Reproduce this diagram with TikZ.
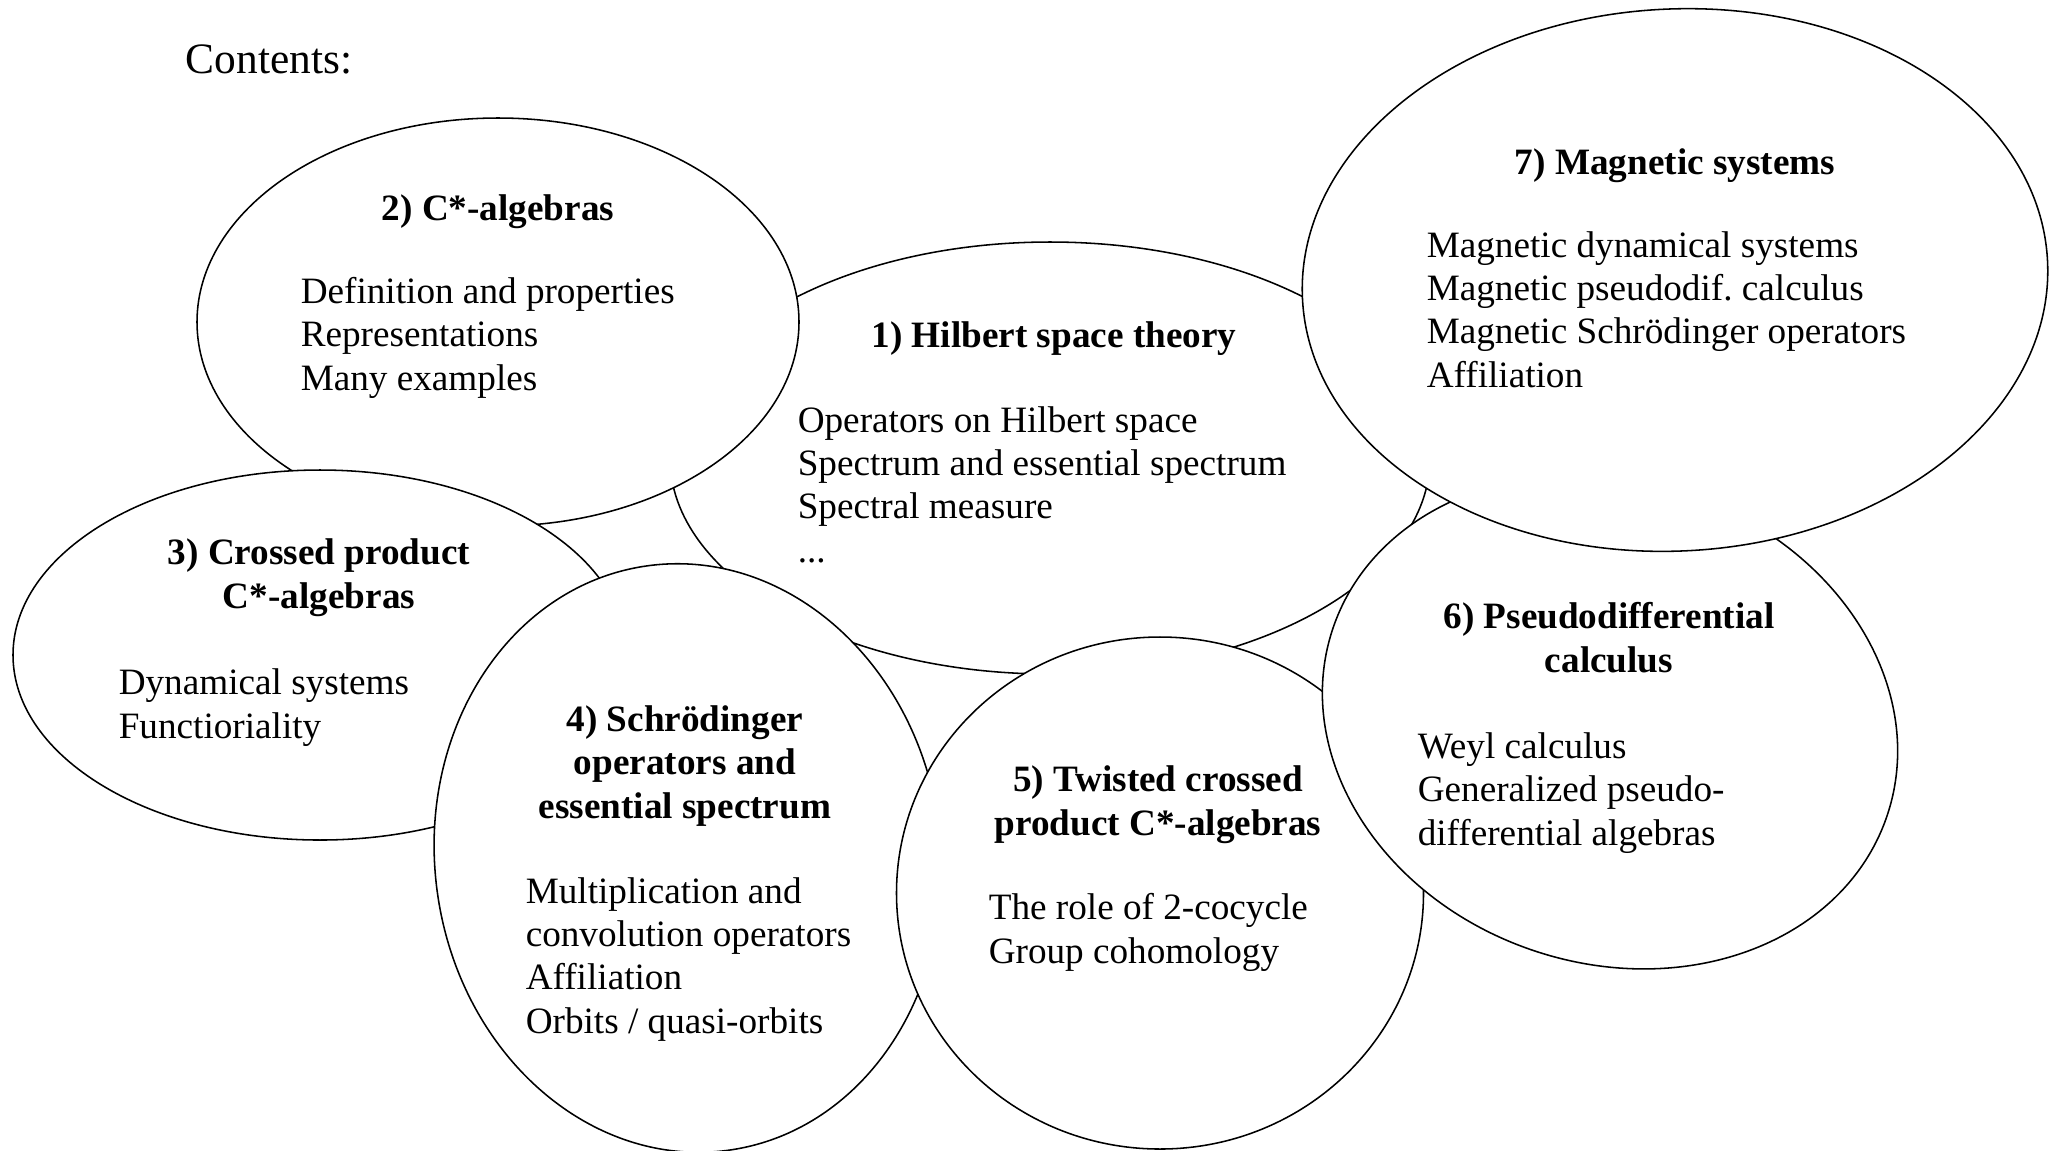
\documentclass[tikz,border=0pt]{standalone}
\usepackage{fontspec}
\setmainfont{Liberation Serif}
\usetikzlibrary{shapes.geometric}

\begin{document}
\begin{tikzpicture}[x=0.3226pt, y=-0.3226pt, line width=0.5pt,
        every node/.style = {inner sep=0pt, font=\fontsize{12}{13.9}\selectfont},
        bubble/.style 2 args = {ellipse, draw=black, fill=white, minimum width=#1*0.3226pt, minimum height=#2*0.3226pt},
        head/.style = {align=center, anchor=base, font=\fontsize{12}{13.9}\selectfont\bfseries},
        items/.style = {align=left, anchor=base west}]
                \useasboundingbox (0,0) rectangle (2056,1150);

                \node[anchor=base west, font=\fontsize{14}{16}\selectfont] (contents) at (185,73) {Contents:};

                % topics, back to front (text nodes sit on their last baseline)
                \node[bubble={760}{432}] (1) at (1050,458) {};
                \node[head] (t1) at (1054,347) {1) Hilbert space theory};
                \node[items] (b1) at (797,562) {Operators on Hilbert space\\Spectrum and essential spectrum\\Spectral measure\\...};

                \node[bubble={602}{408}] (2) at (498,322) {};
                \node[head] (t2) at (498,220) {2) C*-algebras};
                \node[items] (b2) at (300,390) {Definition and properties\\Representations\\Many examples};

                \node[bubble={614}{370}] (3) at (320,655) {};
                \node[head] (t3) at (319,608) {3) Crossed product\\C*-algebras};
                \node[items] (b3) at (118,738) {Dynamical systems\\Functioriality};

                \node[bubble={506}{590}, rotate=8] (4) at (688,858) {};
                \node[head] (t4) at (685,818) {4) Schrödinger\\operators and\\essential spectrum};
                \node[items] (b4) at (525,1033) {Multiplication and\\convolution operators\\Affiliation\\Orbits / quasi-orbits};

                \node[bubble={527}{512}] (5) at (1160,893) {};
                \node[head] (t5) at (1158,835) {5) Twisted crossed\\product C*-algebras};
                \node[items] (b5) at (988,963) {The role of 2-cocycle\\Group cohomology};

                \node[bubble={585}{482}, rotate=-18.8] (6) at (1610,722) {};
                \node[head] (t6) at (1609,672) {6) Pseudodifferential\\calculus};
                \node[items] (b6) at (1417,845) {Weyl calculus\\Generalized pseudo-\\differential algebras};

                \node[bubble={746}{542}, rotate=3] (7) at (1675,280) {};
                \node[head] (t7) at (1675,174) {7) Magnetic systems};
                \node[items] (b7) at (1426,387) {Magnetic dynamical systems\\Magnetic pseudodif.\ calculus\\Magnetic Schrödinger operators\\Affiliation};
            \end{tikzpicture}
\end{document}
